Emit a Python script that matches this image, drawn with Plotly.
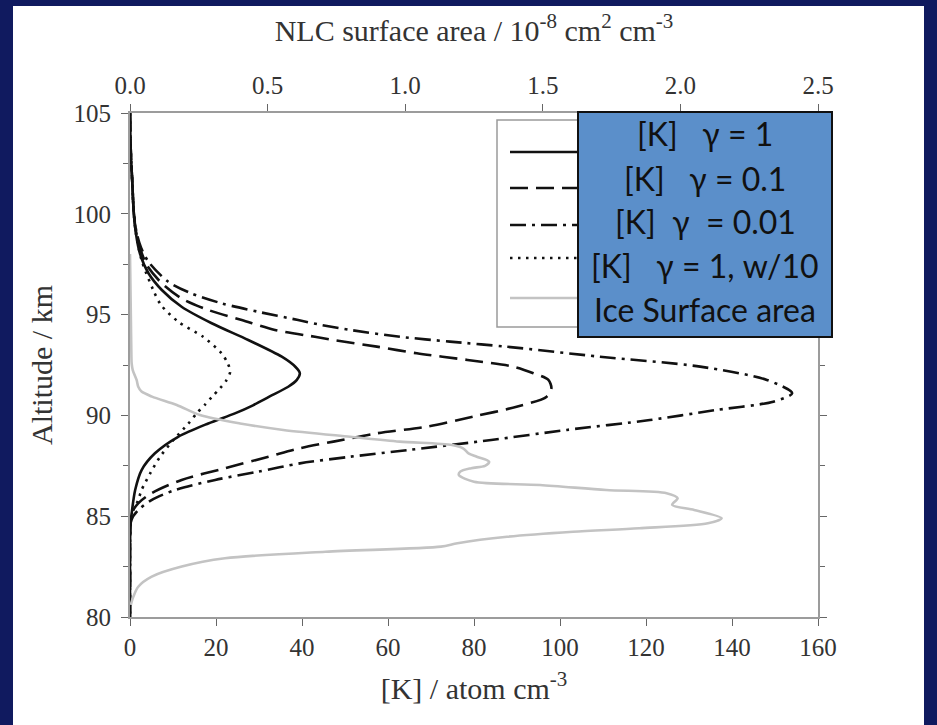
import plotly.graph_objects as go

# ---- data ----
alt_g1 = [105, 103, 101.7, 100, 99, 98.04, 97.05, 96.22, 95.39, 94.57, 93.74, 92.91, 92.4, 92.09, 91.76, 91.42,
          90.93, 90.5, 90.10, 89.6, 88.94, 88.12, 87.29, 86.3, 85.16, 84.5, 82, 80]
k_g1 = [0, 0.2, 0.5, 0.9, 1.4, 2.3, 4.3, 7.4, 12.0, 19.0, 27.5, 35.3, 38.5, 39.5, 38.8, 36.8,
        32.4, 28.6, 24.4, 18.2, 11.2, 5.8, 2.7, 1.2, 0.4, 0.1, 0, 0]

alt_g01 = [105, 103, 101.7, 100, 99, 98.2, 97.46, 96.55, 95.8, 95.23, 94.73, 94.24, 93.9, 93.74, 93.41, 93.08,
           92.75, 92.42, 92.09, 91.76, 91.34, 90.93, 90.43, 89.94, 89.44, 89.11, 88.7, 88.37, 87.95, 87.38,
           86.8, 86.14, 85.64, 85.16, 84.5, 82, 80]
k_g01 = [0, 0.2, 0.5, 0.9, 1.5, 2.5, 3.9, 7.4, 12.0, 18.2, 26.0, 33.7, 43.0, 47.3, 57.4, 66.7,
         78.5, 89.1, 93.8, 97.3, 98.0, 96.9, 89.9, 79.8, 69.0, 57.4, 47.3, 39.5, 32.2, 22.1,
         12.0, 5.0, 1.9, 0.4, 0.1, 0, 0]

alt_g001 = [105, 103, 101.7, 100, 99, 98.3, 97.62, 96.63, 96.05, 95.56, 95.14, 94.73, 94.48, 94.24, 93.9,
            93.66, 93.41, 92.91, 92.42, 91.76, 91.1, 90.68, 90.27, 89.77, 89.28, 88.78, 88.29, 87.95, 87.62,
            87.21, 86.8, 86.3, 85.8, 85.3, 84.8, 82, 80]
k_g001 = [0, 0.2, 0.5, 0.9, 1.6, 2.6, 4.3, 8.9, 14.3, 21.3, 29.8, 39.1, 44.6, 51.2, 62.8,
          74.4, 87.5, 109.3, 132.6, 148.1, 154.0, 149.6, 136.4, 120.9, 101.6, 84.0, 65.0, 51.2, 39.5,
          29.8, 19.8, 10.5, 5.0, 1.9, 0.3, 0, 0]

alt_w10 = [105, 103, 101.7, 100, 99, 97.7, 96.22, 95.48, 94.65, 93.9, 93.08, 92.6, 92.17, 91.7, 91.34, 90.93,
           90.52, 90.1, 89.6, 88.78, 87.95, 87.13, 86.3, 85.8, 85.16, 84.5, 82, 80]
k_w10 = [0, 0.2, 0.5, 0.9, 1.4, 2.7, 5.4, 7.2, 11.2, 17.0, 21.3, 22.7, 23.3, 22.3, 20.9, 19.1,
         17.4, 15.5, 13.6, 10.1, 7.0, 4.7, 2.7, 1.9, 0.5, 0.1, 0, 0]

alt_ice = [98, 95, 93, 92.58, 92.25, 91.76, 91.42, 91.18, 90.93, 90.52, 90.02, 89.6, 89.28, 88.94, 88.7,
           88.53, 88.37, 88.12, 87.95, 87.7, 87.5, 87.38, 87.21, 87.04, 86.71, 86.55, 86.3, 86.14, 85.89,
           85.56, 85.31, 84.9, 84.65, 84.4, 84.23, 83.98, 83.66, 83.49, 83.24, 82.91, 82.5, 82.0, 81.5,
           81.0, 80.6]
s_ice = [0.0, 0.003, 0.005, 0.006, 0.01, 0.024, 0.030, 0.042, 0.08, 0.17, 0.254, 0.40, 0.557, 0.80, 0.98,
         1.17, 1.21, 1.23, 1.26, 1.305, 1.29, 1.24, 1.20, 1.195, 1.25, 1.49, 1.73, 1.95, 1.99,
         1.97, 2.05, 2.15, 2.10, 1.85, 1.61, 1.37, 1.19, 1.13, 0.71, 0.345, 0.188, 0.079, 0.030,
         0.012, 0.003]

legend_labels = ["[K]\u00a0\u00a0 \u03b3 = 1", "[K]\u00a0\u00a0 \u03b3 = 0.1", "[K]\u00a0 \u03b3\u00a0 = 0.01",
                 "[K]\u00a0\u00a0 \u03b3 = 1, w/10", "Ice Surface area"]

x_ticks = [0, 20, 40, 60, 80, 100, 120, 140, 160]
top_ticks = [0.0, 0.5, 1.0, 1.5, 2.0, 2.5]
y_ticks = [80, 85, 90, 95, 100, 105]

# ---- styles ----
W, H = 937, 725
L, R, T, B = 130, 818, 113, 617
BLACK = "#111111"
DASH = "18px,8px"
DASHDOT = "16px,6px,3px,6px"
DOT = "2.5px,5.5px"
GRAY = "#c3c3c3"
SERIF = "Liberation Serif, Times New Roman, serif"
TXT = "#333333"


def px(x):
    return (x - L) / (R - L)


def py(y):
    return (B - y) / (B - T)


fig = go.Figure()
line_specs = [(k_g1, alt_g1, "solid"), (k_g01, alt_g01, DASH), (k_g001, alt_g001, DASHDOT), (k_w10, alt_w10, DOT)]
for (xs, ys, dash), name in zip(line_specs, legend_labels[:4]):
    fig.add_trace(go.Scatter(x=xs, y=ys, mode="lines", name=name,
                             line=dict(color=BLACK, width=2.6, dash=dash, shape="spline", smoothing=0.8)))
fig.add_trace(go.Scatter(x=s_ice, y=alt_ice, mode="lines", name=legend_labels[4], xaxis="x2",
                         line=dict(color=GRAY, width=2.6, shape="spline", smoothing=0.8)))

axis_common = dict(showline=True, linecolor="#9c9c9c", linewidth=2, ticks="outside", ticklen=7,
                   tickwidth=1, tickcolor="#666666", showgrid=False, zeroline=False,
                   tickfont=dict(family=SERIF, size=25, color=TXT))

fig.update_layout(
    width=W, height=H,
    margin=dict(l=L, r=W - R, t=T, b=H - B, pad=0),
    paper_bgcolor="#101a5f", plot_bgcolor="white",
    showlegend=False,
    xaxis=dict(range=[0, 160], tickvals=x_ticks, ticktext=[str(v) for v in x_ticks], **axis_common,
               title=dict(text="[K] / atom cm<sup>-3</sup>", font=dict(family=SERIF, size=30, color=TXT),
                          standoff=18)),
    xaxis2=dict(range=[0, 2.5], overlaying="x", side="top", tickvals=top_ticks,
                ticktext=["%.1f" % v for v in top_ticks], **axis_common,
                title=dict(text="NLC surface area / 10<sup>-8</sup> cm<sup>2</sup> cm<sup>-3</sup>",
                           font=dict(family=SERIF, size=30, color=TXT), standoff=22)),
    yaxis=dict(range=[80, 105], tickvals=y_ticks, ticktext=[str(v) for v in y_ticks], mirror="ticks",
               minor=dict(dtick=2.5, ticks="outside", ticklen=5, tickcolor="#666666"), **axis_common,
               ticklabelstandoff=5,
               title=dict(text="Altitude / km", font=dict(family=SERIF, size=30, color=TXT), standoff=12)),
)

shapes = []
# white panel over the navy frame
shapes.append(dict(type="rect", xref="paper", yref="paper", x0=px(13), x1=px(924), y0=py(735), y1=py(6),
                   fillcolor="white", line=dict(width=0), layer="below"))
# legend box (samples)
shapes.append(dict(type="rect", xref="paper", yref="paper", x0=px(497), x1=px(700), y0=py(327), y1=py(120),
                   fillcolor="white", line=dict(color="#9a9a9a", width=1.5), layer="above"))
sample_y = [152, 188, 225, 258, 298]
sample_style = [(BLACK, "solid"), (BLACK, DASH), (BLACK, DASHDOT), (BLACK, DOT), (GRAY, "solid")]
for yy, (c, d) in zip(sample_y, sample_style):
    shapes.append(dict(type="line", xref="paper", yref="paper", x0=px(510), x1=px(580), y0=py(yy), y1=py(yy),
                       line=dict(color=c, width=2.6, dash=d), layer="above"))
# blue label box
shapes.append(dict(type="rect", xref="paper", yref="paper", x0=px(578), x1=px(832), y0=py(337), y1=py(112),
                   fillcolor="#5b8fca", line=dict(color="#111111", width=2), layer="above"))
fig.update_layout(shapes=shapes)

label_y = [134, 178, 221, 265, 309]
for txt, yy in zip(legend_labels, label_y):
    fig.add_annotation(text=txt, xref="paper", yref="paper", x=px(705), y=py(yy), showarrow=False,
                       xanchor="center", yanchor="middle",
                       font=dict(family="Lato, Open Sans, sans-serif", size=32, color="#111111"))

fig.write_html("out.html")
